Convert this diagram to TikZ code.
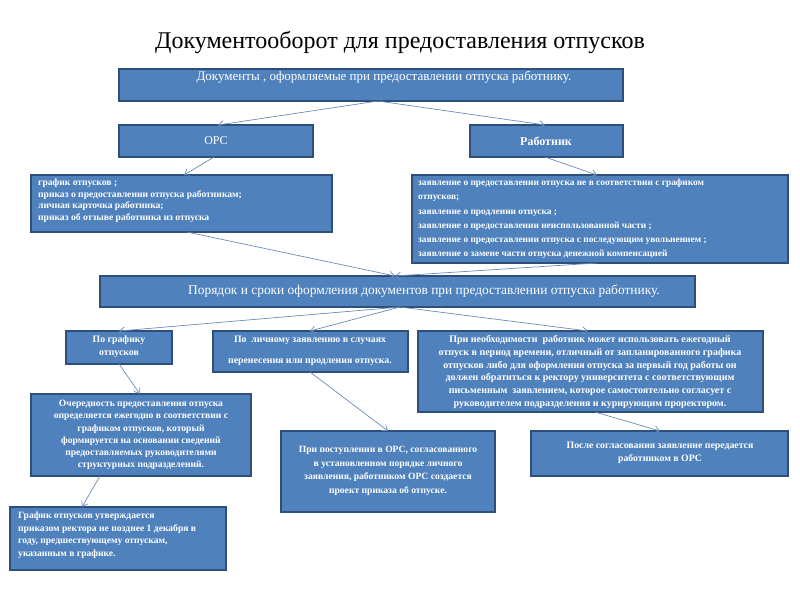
\documentclass[tikz,border=0pt]{standalone}
\usepackage{fontspec}
\setmainfont{Liberation Serif}
\usetikzlibrary{arrows.meta}
\definecolor{boxfill}{HTML}{4F81BD}
\definecolor{boxline}{HTML}{2E4F7A}
\definecolor{arr}{HTML}{6A8CB8}
\tikzset{
 bx/.style={draw=boxline,line width=1.2pt,fill=boxfill},
 tx/.style={text=white,align=center,inner sep=0},
 con/.style={draw=arr,line width=0.7pt,-{Straight Barb[length=5pt,width=7pt]}}
}
\begin{document}
\begin{tikzpicture}[x=1pt,y=-1pt]
\useasboundingbox (0,0) rectangle (800,600);
\node (title) at (400,42) {\fontsize{24}{28}\selectfont Документооборот для предоставления отпусков};
\draw[bx] (119,69) rectangle (623,101); \node[tx,font=\fontsize{13}{15}\selectfont] (top) at (384,77) {Документы , оформляемые при предоставлении отпуска работнику.};
\draw[bx] (119,125) rectangle (313,157); \node[tx,font=\fontsize{12}{14}\selectfont] (ors) at (216,141) {ОРС};
\draw[bx] (470,125) rectangle (623,157); \node[tx,font=\bfseries\fontsize{12}{14}\selectfont] (rab) at (546,141) {Работник};
\draw[bx] (31,175) rectangle (332,232);
\node[tx,anchor=north west,align=left,font=\bfseries\fontsize{9.6}{11.5}\selectfont] (ld) at (38,179) {график отпусков ;\\приказ о предоставлении отпуска работникам;\\личная карточка работника;\\приказ об отзыве работника из отпуска};
\draw[bx] (412,175) rectangle (788,263);
\node[tx,anchor=north west,align=left,font=\bfseries\fontsize{9.4}{14.2}\selectfont] (rd) at (418,179) {заявление о предоставлении отпуска не в соответствии с графиком\\отпусков;\\заявление о продлении отпуска ;\\заявление о предоставлении неиспользованной части ;\\заявление о предоставлении отпуска с последующим увольнением ;\\заявление о замене части отпуска денежной компенсацией};
\draw[bx] (100,276) rectangle (695,307); \node[tx,font=\fontsize{13.4}{15}\selectfont] (por) at (424,291) {Порядок и сроки оформления документов при предоставлении отпуска работнику.};
\draw[bx] (66,331) rectangle (172,364); \node[tx,font=\bfseries\fontsize{9.8}{13}\selectfont] (pg) at (119,347) {По графику\\отпусков};
\draw[bx] (213,331) rectangle (408,372); \node[tx,font=\bfseries\fontsize{9.8}{21}\selectfont] (pl) at (310,351) {По\ \ личному заявлению в случаях\\перенесения или продления отпуска.};
\draw[bx] (418,331) rectangle (763,412); \node[tx,font=\bfseries\fontsize{10}{12.8}\selectfont] (pn) at (590,372) {При необходимости\ \ работник может использовать ежегодный\\отпуск в период времени, отличный от запланированного графика\\отпусков либо для оформления отпуска за первый год работы он\\должен обратиться к ректору университета с соответствующим\\письменным\ \ заявлением, которое самостоятельно согласует с\\руководителем подразделения и курирующим проректором.};
\draw[bx] (31,394) rectangle (251,476); \node[tx,font=\bfseries\fontsize{9.6}{12.3}\selectfont] (och) at (141,435) {Очередность предоставления отпуска\\определяется ежегодно в соответствии с\\графиком отпусков, который\\формируется на основании сведений\\предоставляемых руководителями\\структурных подразделений.};
\draw[bx] (281,431) rectangle (495,512); \node[tx,font=\bfseries\fontsize{9.6}{13.5}\selectfont] (pp) at (388,471) {При поступлении в ОРС, согласованного\\в установленном порядке личного\\заявления, работником ОРС создается\\проект приказа об отпуске.};
\draw[bx] (531,431) rectangle (788,476); \node[tx,font=\bfseries\fontsize{9.8}{13.5}\selectfont] (pos) at (660,453) {После согласования заявление передается\\работником в ОРС};
\draw[bx] (10,507) rectangle (226,570); \node[tx,anchor=north west,align=left,font=\bfseries\fontsize{9.6}{12.5}\selectfont] (gu) at (18,512) {График отпусков утверждается\\приказом ректора не позднее 1 декабря в\\году, предшествующему отпускам,\\указанным в графике.};
\coordinate (a0) at (378,101); \coordinate (a1) at (218,125); \coordinate (a2) at (545,125);
\draw[con] (a0) -- (a1); \draw[con] (a0) -- (a2);
\coordinate (b0) at (214,157); \coordinate (b1) at (184,175); \draw[con] (b0) -- (b1);
\coordinate (c0) at (545,157); \coordinate (c1) at (597,175); \draw[con] (c0) -- (c1);
\coordinate (d0) at (187,232); \coordinate (d1) at (395,276); \draw[con] (d0) -- (d1);
\coordinate (e0) at (597,263); \draw[con] (e0) -- (d1);
\coordinate (f0) at (400,307); \coordinate (f1) at (119,331); \coordinate (f2) at (310,331); \coordinate (f3) at (588,331);
\draw[con] (f0) -- (f1); \draw[con] (f0) -- (f2); \draw[con] (f0) -- (f3);
\coordinate (g0) at (119,364); \coordinate (g1) at (140,394); \draw[con] (g0) -- (g1);
\coordinate (h0) at (100,476); \coordinate (h1) at (82,507); \draw[con] (h0) -- (h1);
\coordinate (i0) at (310,372); \coordinate (i1) at (388,431); \draw[con] (i0) -- (i1);
\coordinate (j0) at (595,412); \coordinate (j1) at (660,431); \draw[con] (j0) -- (j1);
\end{tikzpicture}
\end{document}
